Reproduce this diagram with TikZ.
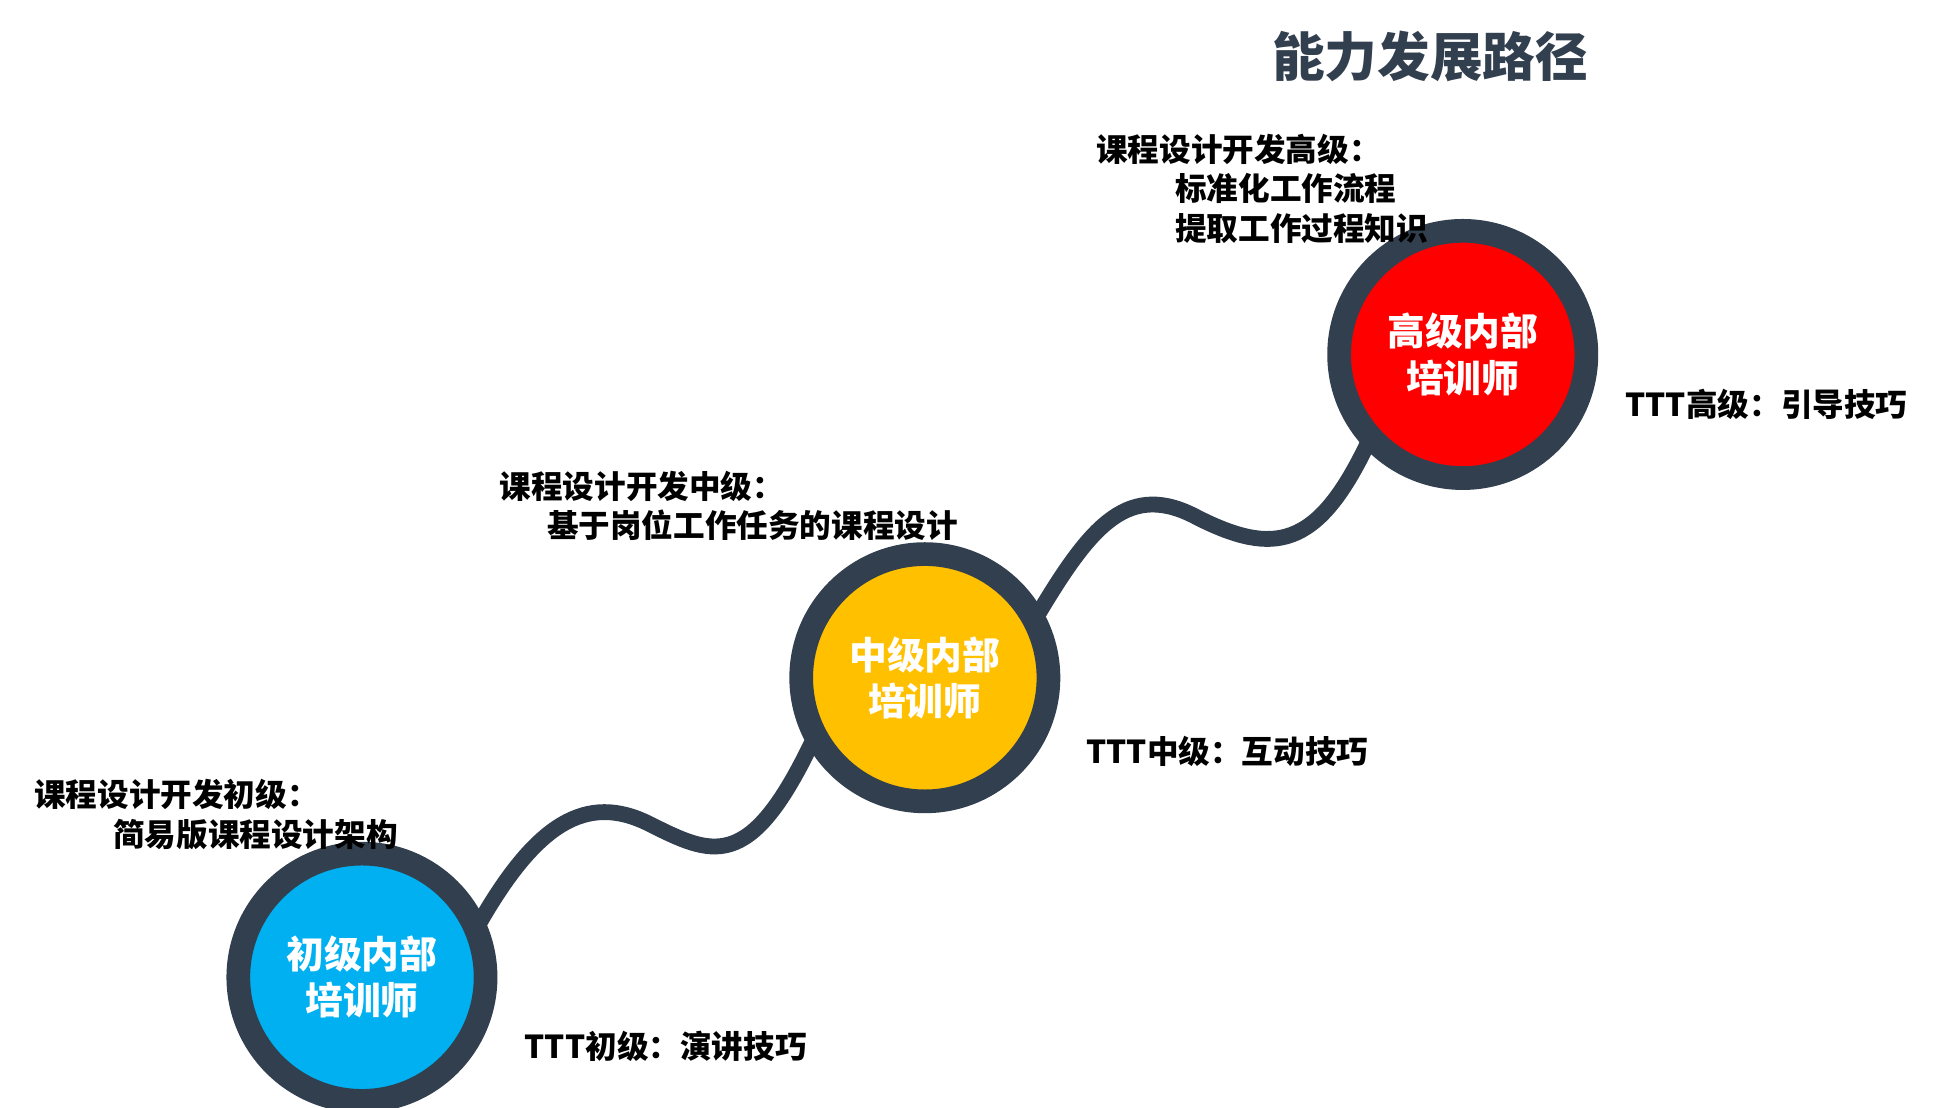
\documentclass[tikz,border=0pt]{standalone}
\usepackage{fontspec}
\setmainfont{Noto Sans CJK SC}
\definecolor{ring}{HTML}{323F4F}
\definecolor{cblue}{HTML}{00B0F0}
\definecolor{cyel}{HTML}{FFC000}
\definecolor{cred}{HTML}{FF0000}
\begin{document}
\begin{tikzpicture}[x=0.01cm,y=-0.01cm,
  stage/.style={circle,draw=ring,line width=5.4pt,minimum size=1.98cm,inner sep=0pt,text=white,font=\bfseries\fontsize{8.6}{10.5}\selectfont,align=center},
  lbl/.style={font=\bfseries\fontsize{7.2}{9}\selectfont,text=black,align=left},
  path/.style={draw=ring,line width=3.6pt,line cap=round}]
\useasboundingbox (0,0) rectangle (1560,887);
\node[font=\bfseries\fontsize{12}{14}\selectfont,text=ring] (title) at (1146,45) {能力发展路径};
\draw[path] (385,738) .. controls (430,660) and (470,635) .. (520,660) .. controls (570,685) and (600,700) .. (650,596);
\draw[path] (833,490) .. controls (875,420) and (905,385) .. (960,415) .. controls (1020,445) and (1055,440) .. (1095,357);
\node[stage,fill=cblue] (a) at (290,783) {初级内部\\培训师};
\node[stage,fill=cyel] (b) at (741,543) {中级内部\\培训师};
\node[stage,fill=cred] (c) at (1172,284) {高级内部\\培训师};
\node[lbl,anchor=north west] (a1) at (15,612) {课程设计开发初级：\\\hspace{2.5em}简易版课程设计架构};
\node[lbl,anchor=west] (a2) at (408,838) {TTT初级：演讲技巧};
\node[lbl,anchor=north west] (b1) at (388,365) {课程设计开发中级：\\\hspace{1.5em}基于岗位工作任务的课程设计};
\node[lbl,anchor=west] (b2) at (858,602) {TTT中级：互动技巧};
\node[lbl,anchor=north west] (c1) at (866,95) {课程设计开发高级：\\\hspace{2.5em}标准化工作流程\\\hspace{2.5em}提取工作过程知识};
\node[lbl,anchor=west] (c2) at (1290,324) {TTT高级：引导技巧};
\end{tikzpicture}
\end{document}
